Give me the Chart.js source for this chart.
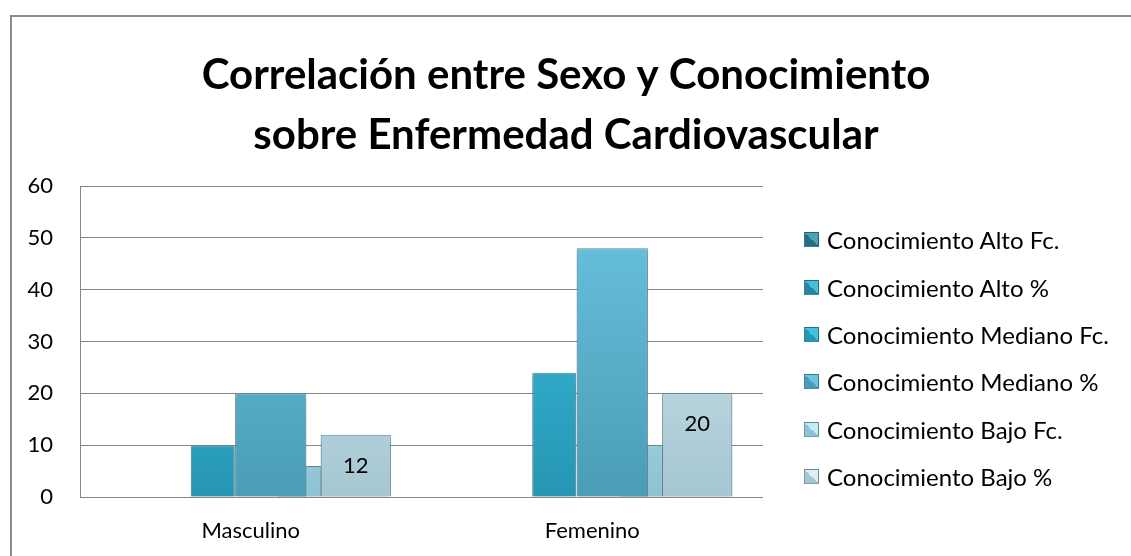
<!DOCTYPE html>
<html lang="es">
<head>
    <meta charset="UTF-8">
    <title>Sexo y Conocimiento</title>
    <style>
        body {
            margin: 0;
            background: #fff;
            overflow: hidden;
        }
        .frame {
            position: absolute;
            left: 10px;
            top: 15px;
            width: 1140px;
            height: 560px;
            border: 2px solid #8c8c8c;
        }
        .frame canvas {
            position: absolute;
            left: 0;
            top: 0;
        }
        #legend {
            position: absolute;
            left: 792px;
            top: 199px;
            margin: 0;
            padding: 0;
            list-style: none;
            font-family: Lato, sans-serif;
            font-size: 24px;
            color: #000;
        }
        #legend li {
            height: 47.4px;
            display: flex;
            align-items: center;
            white-space: nowrap;
        }
        #legend span.box {
            display: inline-block;
            width: 15px;
            height: 15px;
            margin-right: 8px;
            box-sizing: border-box;
            border: 1px solid rgba(40, 80, 90, 0.5);
        }
    </style>
</head>
<body>
    <div class="frame">
        <canvas id="myChart" width="1108" height="539"></canvas>
        <ul id="legend"></ul>
    </div>
    <script src="https://cdn.jsdelivr.net/npm/chart.js@4.4.1/dist/chart.umd.min.js"></script>
    <script>
        const titleLines = ['Correlación entre Sexo y Conocimiento', 'sobre Enfermedad Cardiovascular'];
        const categories = ['Masculino', 'Femenino'];
        const seriesNames = [
            'Conocimiento Alto Fc.',
            'Conocimiento Alto %',
            'Conocimiento Mediano Fc.',
            'Conocimiento Mediano %',
            'Conocimiento Bajo Fc.',
            'Conocimiento Bajo %'
        ];
        const altoFc = [0, 0];
        const altoPct = [0, 0];
        const medianoFc = [10, 24];
        const medianoPct = [20, 48];
        const bajoFc = [6, 10];
        const bajoPct = [12, 20];
        const yTicks = [0, 10, 20, 30, 40, 50, 60];

        // top / bottom colour of each series
        const colors = [
            ['#4aa3b8', '#25707f'],
            ['#45c0dc', '#24879f'],
            ['#40c3e3', '#2596b3'],
            ['#6cc6e2', '#4a9cb7'],
            ['#c4ecf6', '#8ec3d3'],
            ['#dbeff5', '#a5c6d2']
        ];

        function barFill(i) {
            return (c) => {
                const area = c.chart.chartArea;
                if (c.type !== 'data' || !area) return colors[i][0];
                const g = c.chart.ctx.createLinearGradient(0, area.top, 0, area.bottom);
                g.addColorStop(0, colors[i][0]);
                g.addColorStop(1, colors[i][1]);
                return g;
            };
        }

        // Excel clustered layout: per-series slot and width
        const clusterCat = [1, 1, 1.335, 0.703, 0.574, 0.738];
        const clusterBar = [0.6, 0.6, 0.579, 1.78, 1.32, 1.67];

        const values = [altoFc, altoPct, medianoFc, medianoPct, bajoFc, bajoPct];
        const datasets = values.map((v, i) => ({
            label: seriesNames[i],
            data: v,
            backgroundColor: barFill(i),
            borderColor: i < 2 ? 'rgba(0,0,0,0)' : '#5d8e9b',
            borderWidth: i < 2 ? 0 : 1,
            categoryPercentage: clusterCat[i],
            barPercentage: clusterBar[i]
        }));

        const valueLabels = {
            id: 'valueLabels',
            afterDatasetsDraw(chart) {
                const ctx = chart.ctx;
                const meta = chart.getDatasetMeta(5);
                ctx.save();
                ctx.font = '22px Lato';
                ctx.fillStyle = '#000';
                ctx.textAlign = 'center';
                ctx.textBaseline = 'middle';
                meta.data.forEach((bar, j) => {
                    ctx.fillText(bajoPct[j], bar.x, bar.y + 31);
                });
                ctx.restore();
            }
        };

        // soft drop shadow under the columns
        const barShadow = {
            id: 'barShadow',
            beforeDatasetDraw(chart) {
                const ctx = chart.ctx;
                ctx.save();
                ctx.shadowColor = 'rgba(0, 0, 0, 0.28)';
                ctx.shadowBlur = 6;
                ctx.shadowOffsetY = 3;
            },
            afterDatasetDraw(chart) {
                chart.ctx.restore();
            }
        };

        Chart.defaults.font.family = 'Lato';
        Chart.defaults.color = '#000';

        const ctx = document.getElementById('myChart').getContext('2d');
        const myChart = new Chart(ctx, {
            type: 'bar',
            data: {
                labels: categories,
                datasets: datasets
            },
            options: {
                responsive: false,
                animation: false,
                layout: {
                    padding: {left: 0, right: 0, top: 0, bottom: 14}
                },
                plugins: {
                    title: {
                        display: true,
                        text: titleLines,
                        color: '#000',
                        font: {size: 42, weight: 'bold', lineHeight: 1.43},
                        padding: {top: 28, bottom: 21}
                    },
                    legend: {display: false},
                    tooltip: {enabled: false}
                },
                scales: {
                    x: {
                        grid: {display: false, drawTicks: false},
                        border: {display: false},
                        ticks: {font: {size: 22}, padding: 21},
                        afterFit: (scale) => { scale.height = 45; }
                    },
                    y: {
                        min: 0,
                        max: 60,
                        afterBuildTicks: (scale) => {
                            scale.ticks = yTicks.map(v => ({value: v}));
                        },
                        afterFit: (scale) => { scale.width = 68; },
                        grid: {color: '#868686', lineWidth: 1, drawTicks: false},
                        border: {color: '#868686', width: 1},
                        ticks: {font: {size: 22}, padding: 27}
                    },
                    // empty right axis keeps room for the legend list
                    legendSpace: {
                        type: 'linear',
                        position: 'right',
                        grid: {display: false, drawTicks: false},
                        border: {display: false},
                        ticks: {display: false},
                        afterFit: (scale) => { scale.width = 357; }
                    }
                }
            },
            plugins: [barShadow, valueLabels]
        });

        // legend built from the chart's own legend items
        const legendEl = document.getElementById('legend');
        Chart.defaults.plugins.legend.labels.generateLabels(myChart).forEach((item) => {
            const c = colors[item.datasetIndex];
            const li = document.createElement('li');
            const box = document.createElement('span');
            box.className = 'box';
            box.style.background = `conic-gradient(from -45deg, ${c[0]} 0deg 180deg, ${c[1]} 180deg 360deg)`;
            li.appendChild(box);
            li.appendChild(document.createTextNode(item.text));
            legendEl.appendChild(li);
        });
    </script>
</body>
</html>
